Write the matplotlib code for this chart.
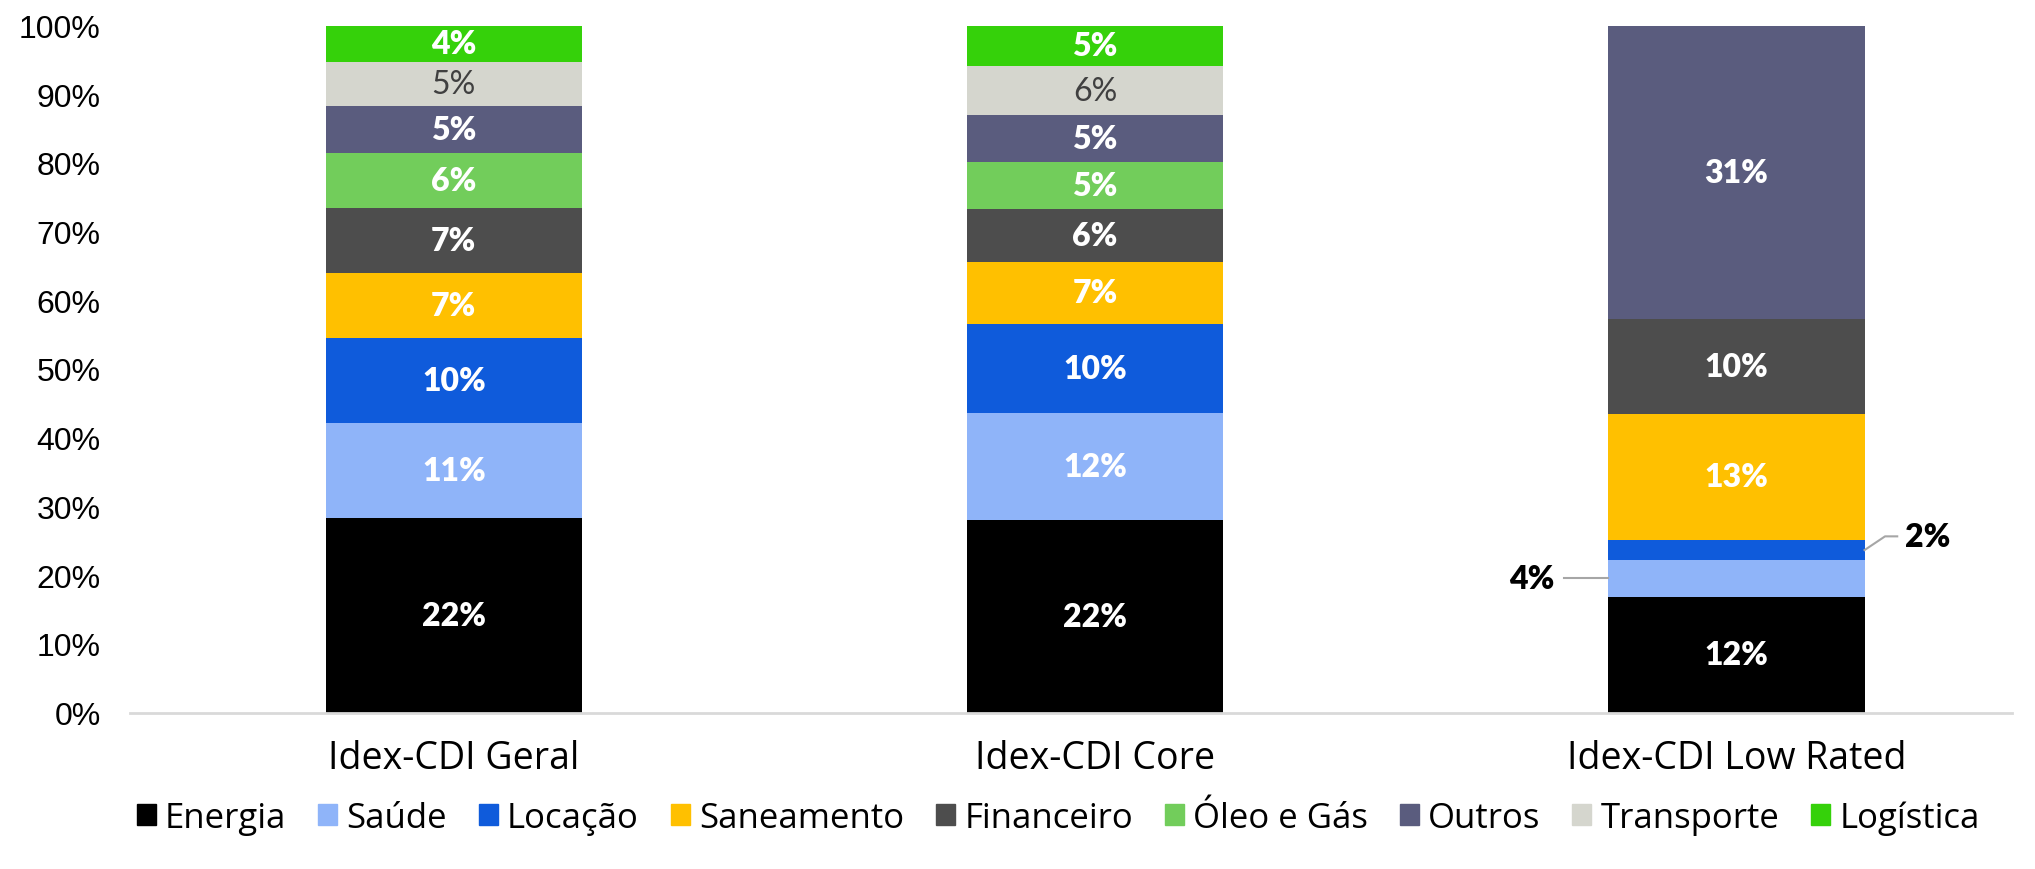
import numpy as np
import matplotlib
matplotlib.use('Agg')
import matplotlib.pyplot as plt
from matplotlib.patches import Patch
from matplotlib.ticker import PercentFormatter

categories = ['Idex-CDI Geral', 'Idex-CDI Core', 'Idex-CDI Low Rated']
sectors = ['Energia', 'Saúde', 'Locação', 'Saneamento', 'Financeiro',
           'Óleo e Gás', 'Outros', 'Transporte', 'Logística']

# sector weights (% of each index)
energia = [21.8, 21.9, 12.1]
saude = [10.6, 12.2, 3.8]
locacao = [9.6, 10.1, 2.1]
saneamento = [7.3, 7.0, 13.2]
financeiro = [7.2, 6.0, 9.9]
oleo_gas = [6.2, 5.4, 0]
outros = [5.3, 5.3, 30.6]
transporte = [4.9, 5.6, 0]
logistica = [4.1, 4.6, 0]

colors = ['#000000', '#8FB4F9', '#0F5BDB', '#FFC000', '#4D4D4D',
          '#72CD5B', '#5A5C7E', '#D5D6CE', '#35D10A']

# slices too thin for an inside label
outside = {(2, 'Saúde'): 'left', (2, 'Locação'): 'right'}

values = np.array([energia, saude, locacao, saneamento, financeiro,
                   oleo_gas, outros, transporte, logistica], dtype=float)
shares = values / values.sum(axis=0)

fig = plt.figure(figsize=(20.35, 8.7), dpi=100)
ax = fig.add_axes([130 / 2035, 1 - 713.5 / 870, 1882 / 2035, 687 / 870])

x = np.arange(len(categories))
width = 0.40
bottom = np.zeros(len(categories))
lab_font = dict(fontsize=23, fontweight='heavy', family='Lato')

for i, sec in enumerate(sectors):
    ax.bar(x, shares[i], width, bottom=bottom, color=colors[i], label=sec)
    for j in range(len(categories)):
        if values[i, j] == 0:
            continue
        txt = f"{values[i, j]:.0f}%"
        yc = bottom[j] + shares[i, j] / 2
        side = outside.get((j, sec))
        if side == 'left':
            ax.plot([x[j] - width / 2 - 0.068, x[j] - width / 2], [yc, yc],
                    color='#A6A6A6', lw=1.5)
            ax.text(x[j] - width / 2 - 0.083, yc, txt, ha='right', va='center',
                    color='black', **lab_font)
        elif side == 'right':
            ax.plot([x[j] + width / 2, x[j] + width / 2 + 0.032, x[j] + width / 2 + 0.051],
                    [yc, yc + 0.02, yc + 0.02], color='#A6A6A6', lw=1.5)
            ax.text(x[j] + width / 2 + 0.063, yc + 0.02, txt, ha='left', va='center',
                    color='black', **lab_font)
        elif sec == 'Transporte':
            ax.text(x[j], yc, txt, ha='center', va='center', fontsize=23,
                    family='Lato', color='#404040')
        else:
            ax.text(x[j], yc, txt, ha='center', va='center', color='white', **lab_font)
    bottom += shares[i]

ax.set_xlim(-0.505, 2.43)
ax.set_ylim(0, 1)
ax.set_yticks(np.arange(0, 1.01, 0.1))
ax.yaxis.set_major_formatter(PercentFormatter(1.0, decimals=0))
ax.set_xticks(x)
ax.set_xticklabels(categories, fontsize=27, family='Open Sans')
ax.tick_params(axis='y', length=0, pad=21, labelsize=23)
ax.tick_params(axis='x', length=0, pad=19)
for lab in ax.get_yticklabels():
    lab.set_family('Liberation Sans')

for s in ['top', 'right', 'left']:
    ax.spines[s].set_visible(False)
ax.spines['bottom'].set_color('#D9D9D9')
ax.spines['bottom'].set_linewidth(2)

handles = [Patch(color=c, label=s) for c, s in zip(colors, sectors)]
fig.legend(handles=handles, loc='center', bbox_to_anchor=(0.52, 0.059), ncol=9,
           frameon=False, prop={'family': 'Open Sans', 'size': 25},
           handlelength=0.55, handleheight=0.55, handletextpad=0.26, columnspacing=0.92)

fig.savefig('out.png', dpi=100)
